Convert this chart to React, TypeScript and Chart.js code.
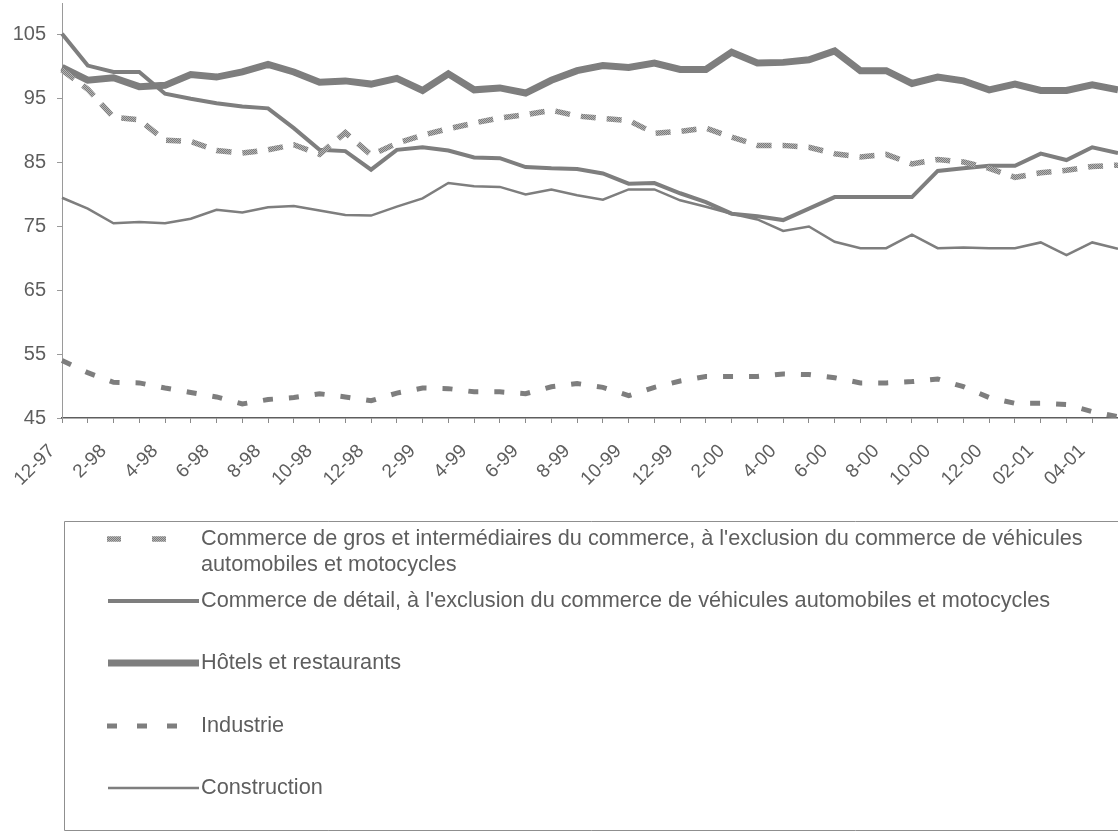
import React, { useEffect, useRef } from "react";
import { Chart, registerables } from "chart.js";

Chart.register(...registerables);

const months = [
  "12-97", "1-98", "2-98", "3-98", "4-98", "5-98", "6-98", "7-98", "8-98", "9-98", "10-98", "11-98",
  "12-98", "1-99", "2-99", "3-99", "4-99", "5-99", "6-99", "7-99", "8-99", "9-99", "10-99", "11-99",
  "12-99", "1-00", "2-00", "3-00", "4-00", "5-00", "6-00", "7-00", "8-00", "9-00", "10-00", "11-00",
  "12-00", "01-01", "02-01", "03-01", "04-01", "05-01",
];

const yTicks = [45, 55, 65, 75, 85, 95, 105];

const seriesLabels = [
  "Commerce de gros et intermédiaires du commerce, à l'exclusion du commerce de véhicules automobiles et motocycles",
  "Commerce de détail, à l'exclusion du commerce de véhicules automobiles et motocycles",
  "Hôtels et restaurants",
  "Industrie",
  "Construction",
];

const gros = [
  99.5, 96.5, 92.1, 91.7, 88.5, 88.3, 86.9, 86.5, 87.0, 87.8, 86.3, 89.7,
  86.2, 88.0, 89.3, 90.3, 91.2, 92.0, 92.5, 93.2, 92.3, 91.9, 91.6, 89.6,
  89.9, 90.4, 89.0, 87.7, 87.7, 87.4, 86.4, 85.9, 86.3, 84.8, 85.5, 85.1,
  84.1, 82.7, 83.4, 83.8, 84.4, 84.6,
];

const detail = [
  105.2, 100.2, 99.2, 99.2, 95.8, 95.0, 94.3, 93.8, 93.5, 90.4, 87.0, 86.8,
  83.9, 87.0, 87.4, 86.9, 85.8, 85.7, 84.3, 84.1, 84.0, 83.3, 81.7, 81.8,
  80.2, 78.8, 77.0, 76.6, 76.0, 77.8, 79.6, 79.6, 79.6, 79.6, 83.7, 84.1,
  84.5, 84.5, 86.4, 85.4, 87.4, 86.5,
];

const hotels = [
  99.9, 97.9, 98.3, 96.9, 97.1, 98.8, 98.4, 99.2, 100.4, 99.2, 97.6, 97.8,
  97.3, 98.2, 96.3, 98.9, 96.4, 96.7, 95.9, 97.9, 99.4, 100.2, 99.9, 100.6,
  99.6, 99.6, 102.3, 100.6, 100.7, 101.1, 102.5, 99.4, 99.4, 97.4, 98.4, 97.8,
  96.4, 97.3, 96.3, 96.3, 97.2, 96.4,
];

const industrie = [
  54.0, 52.1, 50.6, 50.5, 49.7, 49.0, 48.3, 47.2, 47.9, 48.2, 48.8, 48.3,
  47.7, 48.9, 49.7, 49.6, 49.1, 49.1, 48.8, 49.9, 50.4, 49.8, 48.5, 49.8,
  50.8, 51.5, 51.5, 51.5, 51.9, 51.8, 51.3, 50.5, 50.5, 50.7, 51.1, 49.9,
  48.2, 47.3, 47.3, 47.1, 46.0, 45.2,
];

const construction = [
  79.5, 77.8, 75.5, 75.7, 75.5, 76.2, 77.6, 77.2, 78.0, 78.2, 77.5, 76.8,
  76.7, 78.1, 79.4, 81.8, 81.3, 81.2, 80.0, 80.8, 79.9, 79.2, 80.8, 80.8,
  79.1, 78.1, 77.0, 76.1, 74.3, 75.0, 72.6, 71.6, 71.6, 73.7, 71.6, 71.7,
  71.6, 71.6, 72.5, 70.5, 72.5, 71.5,
];

const FONT = '"Liberation Sans", Arial, Helvetica, sans-serif';
const LINE_GRAY = "#7e7e7e";
const TEXT_GRAY = "#5e5e5e";

function makeHatch(): CanvasPattern | string {
  const c = document.createElement("canvas");
  c.width = 4;
  c.height = 4;
  const g = c.getContext("2d");
  if (!g) return "#a0a0a0";
  g.fillStyle = "#b4b4b4";
  g.fillRect(0, 0, 4, 4);
  g.fillStyle = "#7c7c7c";
  for (let i = 0; i < 4; i++) {
    g.fillRect(i, i, 1, 1);
    g.fillRect((i + 2) % 4, i, 1, 1);
  }
  const p = g.createPattern(c, "repeat");
  return p || "#a0a0a0";
}

// legend symbol styles (start x, end x, dash)
const legendSymbols = [
  { x0: 107, x1: 168, dash: [14, 31] },
  { x0: 108, x1: 199, dash: [] as number[] },
  { x0: 108, x1: 199, dash: [] as number[] },
  { x0: 107, x1: 178, dash: [10, 20] },
  { x0: 108, x1: 199, dash: [] as number[] },
];
const legendRows = [539, 601, 663, 726, 788];

const boxLegend = {
  id: "boxLegend",
  afterDraw(chart: any) {
    const ctx: CanvasRenderingContext2D = chart.ctx;
    ctx.save();
    ctx.strokeStyle = "#8f8f8f";
    ctx.lineWidth = 1;
    ctx.setLineDash([]);
    ctx.beginPath();
    ctx.moveTo(1125, 521.5);
    ctx.lineTo(64.5, 521.5);
    ctx.lineTo(64.5, 830.5);
    ctx.lineTo(1125, 830.5);
    ctx.stroke();

    ctx.font = `21.7px ${FONT}`;
    ctx.textBaseline = "middle";
    ctx.textAlign = "left";
    const textX = 201;
    const maxW = 1118 - textX - 14;
    chart.data.datasets.forEach((ds: any, i: number) => {
      const y = legendRows[i];
      const sym = legendSymbols[i];
      ctx.save();
      ctx.strokeStyle = ds.borderColor;
      ctx.lineWidth = ds.borderWidth;
      ctx.lineCap = "butt";
      ctx.setLineDash(sym.dash);
      ctx.beginPath();
      ctx.moveTo(sym.x0, y);
      ctx.lineTo(sym.x1, y);
      ctx.stroke();
      ctx.restore();

      // word wrap
      const words = String(ds.label).split(" ");
      const lines: string[] = [];
      let cur = "";
      words.forEach((w) => {
        const test = cur ? cur + " " + w : w;
        if (ctx.measureText(test).width > maxW && cur) {
          lines.push(cur);
          cur = w;
        } else {
          cur = test;
        }
      });
      if (cur) lines.push(cur);
      ctx.fillStyle = TEXT_GRAY;
      lines.forEach((ln, k) => ctx.fillText(ln, textX, y + k * 26));
    });
    ctx.restore();
  },
};

export default function App() {
  const ref = useRef<HTMLCanvasElement | null>(null);

  useEffect(() => {
    if (!ref.current) return;
    const hatch = makeHatch();
    const chart = new Chart(ref.current, {
      type: "line",
      data: {
        labels: months,
        datasets: [
          {
            label: seriesLabels[0],
            data: gros,
            borderColor: hatch as any,
            borderWidth: 5.5,
            borderDash: [15, 11],
            borderCapStyle: "butt",
          },
          {
            label: seriesLabels[1],
            data: detail,
            borderColor: LINE_GRAY,
            borderWidth: 4,
          },
          {
            label: seriesLabels[2],
            data: hotels,
            borderColor: LINE_GRAY,
            borderWidth: 7,
          },
          {
            label: seriesLabels[3],
            data: industrie,
            borderColor: LINE_GRAY,
            borderWidth: 5,
            borderDash: [10, 16],
            borderCapStyle: "butt",
          },
          {
            label: seriesLabels[4],
            data: construction,
            borderColor: LINE_GRAY,
            borderWidth: 2.5,
          },
        ],
      },
      options: {
        animation: false,
        responsive: true,
        maintainAspectRatio: false,
        layout: { padding: { left: 0, right: 0, top: 3, bottom: 346 } },
        elements: {
          point: { radius: 0, hoverRadius: 0 },
          line: { tension: 0, fill: false },
        },
        plugins: {
          legend: { display: false },
          tooltip: { enabled: false },
          title: { display: false },
        },
        scales: {
          x: {
            type: "category",
            offset: false,
            grid: {
              display: true,
              drawOnChartArea: false,
              drawTicks: true,
              tickLength: 5,
              color: "#8a8a8a",
              lineWidth: 1,
            },
            border: { display: true, color: "#5e5e5e", width: 1.5 },
            ticks: {
              autoSkip: false,
              maxRotation: 45,
              minRotation: 45,
              padding: 17,
              labelOffset: -10,
              color: TEXT_GRAY,
              font: { family: FONT, size: 19 },
              callback: (_v: any, i: number) => (i % 2 === 0 ? months[i] : ""),
            },
            afterFit: (s: any) => {
              s.height = 70;
              s.paddingLeft = 0;
              s.paddingRight = 0;
            },
          },
          y: {
            min: 45,
            max: 110,
            afterBuildTicks: (s: any) => {
              s.ticks = yTicks.map((v) => ({ value: v }));
            },
            grid: {
              display: true,
              drawOnChartArea: false,
              drawTicks: true,
              tickLength: 5,
              color: "#9a9a9a",
            },
            border: { display: true, color: "#9a9a9a", width: 1 },
            ticks: {
              padding: 11,
              color: TEXT_GRAY,
              font: { family: FONT, size: 20 },
            },
            afterFit: (s: any) => {
              s.width = 62;
              s.paddingTop = 0;
              s.paddingBottom = 0;
            },
          },
        },
      },
      plugins: [boxLegend],
    });
    return () => chart.destroy();
  }, []);

  return (
    <div
      style={{
        position: "absolute",
        left: 0,
        top: 0,
        width: 1118,
        height: 834,
        background: "#ffffff",
      }}
    >
      <canvas ref={ref} />
    </div>
  );
}
